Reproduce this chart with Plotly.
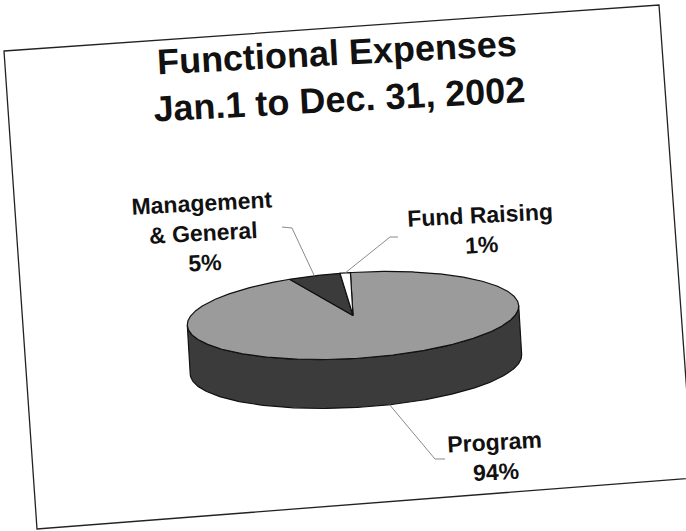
import numpy as np
import plotly.graph_objects as go

# ---------------- data ----------------
categories = ["Program", "Management & General", "Fund Raising"]
values = [94, 5, 1]
pct_labels = ["94%", "5%", "1%"]
label_lines = ["Program", "Management<br>& General", "Fund Raising"]
title_lines = ["Functional Expenses", "Jan.1 to Dec. 31, 2002"]

# ---------------- style / geometry ----------------
W, H = 686, 531
top_colors = ["#9b9b9b", "#3b3b3b", "#ffffff"]
side_colors = ["#3b3b3b", "#2a2a2a", "#bdbdbd"]
CX, CY = 353.0, 315.5        # centre of top face (pixels)
A, B = 166.0, 43.0           # semi axes of the top ellipse
DEPTH = 49.0                 # thickness of the pie
TILT = np.radians(3.45)      # scan tilt
FONT = "Liberation Sans, Arial, sans-serif"

def to_screen(u, v):
    u = np.asarray(u, float); v = np.asarray(v, float)
    X = u * np.cos(TILT) - v * np.sin(TILT)
    Y = u * np.sin(TILT) + v * np.cos(TILT)
    return CX + X, CY - Y

def rim(theta_deg, drop=0.0):
    t = np.radians(theta_deg)
    return to_screen(A * np.cos(t), B * np.sin(t) - drop)

total = float(sum(values))
starts, ends = [], []
acc = 0.0
for v in values:
    s = 90.0 - 360.0 * acc / total
    acc += v
    e = 90.0 - 360.0 * acc / total
    starts.append(s); ends.append(e)

fig = go.Figure()

# ---- side walls (visible front half: 180..360 deg) ----
for i, cat in enumerate(categories):
    lo, hi = ends[i], starts[i]
    for k in range(-2, 2):
        vlo, vhi = 180 + 360 * k, 360 + 360 * k
        a0, a1 = max(lo, vlo), min(hi, vhi)
        if a1 - a0 > 0.01:
            th = np.linspace(a0, a1, 200)
            xt, yt = rim(th)
            xb, yb = rim(th[::-1], DEPTH)
            xs = np.concatenate([xt, xb, xt[:1]])
            ys = np.concatenate([yt, yb, yt[:1]])
            fig.add_trace(go.Scatter(x=xs, y=ys, mode="lines", fill="toself",
                                     fillcolor=side_colors[i],
                                     line=dict(color="#111111", width=1.2),
                                     hoverinfo="skip", showlegend=False))

# ---- top faces ----
for i, cat in enumerate(categories):
    n = max(int(abs(starts[i] - ends[i]) * 2), 8)
    th = np.linspace(starts[i], ends[i], n)
    xr, yr = rim(th)
    cx0, cy0 = to_screen(0, 0)
    xs = np.concatenate([[cx0], xr, [cx0]])
    ys = np.concatenate([[cy0], yr, [cy0]])
    fig.add_trace(go.Scatter(x=xs, y=ys, mode="lines", fill="toself",
                             fillcolor=top_colors[i],
                             line=dict(color="#111111", width=1.2),
                             name=cat, hoverinfo="name", showlegend=False))

# ---- labels and leader lines ----
label_pos = [(495, 457), (203, 233), (481, 230)]
elbows = [[(445, 459), (435, 459)],
          [(282, 227), (292, 228)],
          [(398, 237), (390, 237)]]
for i, cat in enumerate(categories):
    mid = (starts[i] + ends[i]) / 2.0
    front = (np.sin(np.radians(mid)) < 0)
    px, py = rim(mid, DEPTH if front else 0.0)
    ex = [p[0] for p in elbows[i]] + [float(px)]
    ey = [p[1] for p in elbows[i]] + [float(py)]
    fig.add_trace(go.Scatter(x=ex, y=ey, mode="lines",
                             line=dict(color="#8a8a8a", width=1),
                             hoverinfo="skip", showlegend=False))
    fig.add_annotation(x=label_pos[i][0], y=label_pos[i][1],
                       text=label_lines[i] + "<br>" + pct_labels[i],
                       showarrow=False, textangle=-3, xanchor="center", yanchor="middle",
                       font=dict(family=FONT, size=23, color="#111111", weight="bold"))

# ---- title ----
fig.add_annotation(x=338, y=76, text="<br>".join(title_lines), showarrow=False,
                   textangle=-3, xanchor="center", yanchor="middle",
                   font=dict(family=FONT, size=36, color="#111111", weight="bold"))

# ---- scanned page border ----
fig.add_shape(type="path", path="M 4 51 L 659 5 L 693 478 L 37 529 Z",
              xref="x", yref="y", line=dict(color="#222222", width=1.3),
              fillcolor="rgba(0,0,0,0)", layer="below")

fig.update_layout(width=W, height=H, autosize=False,
                  margin=dict(l=0, r=0, t=0, b=0),
                  paper_bgcolor="white", plot_bgcolor="white",
                  xaxis=dict(range=[0, W], visible=False, fixedrange=True),
                  yaxis=dict(range=[H, 0], visible=False, fixedrange=True),
                  showlegend=False)

fig.write_html("out.html")
